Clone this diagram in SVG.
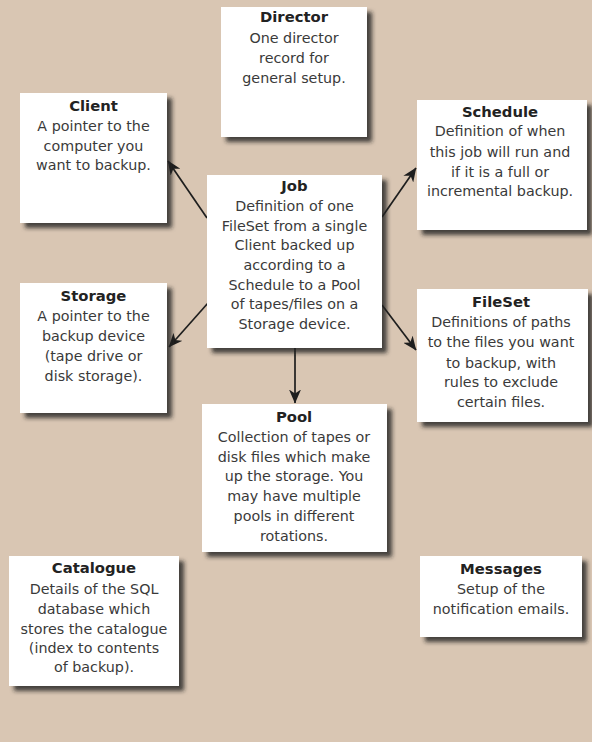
<svg xmlns="http://www.w3.org/2000/svg" width="592" height="742" viewBox="0 0 592 742">
<style>
.box{fill:#ffffff;filter:url(#sh)}
text{font-family:"DejaVu Sans","Liberation Sans",sans-serif;text-anchor:middle;fill:#3a3a3a;font-size:14.3px}
.t{font-weight:bold;font-size:14.8px;fill:#222}
.c{stroke:#1e1e1e;stroke-width:1.7;fill:none;marker-end:url(#ah)}
</style>
<defs>
<filter id="sh" x="-10%" y="-10%" width="130%" height="130%">
<feDropShadow dx="5" dy="5" stdDeviation="2" flood-color="#222" flood-opacity="0.8"/>
</filter>
<marker id="ah" viewBox="0 0 14 12" refX="13.5" refY="6" markerWidth="14" markerHeight="12" markerUnits="userSpaceOnUse" orient="auto">
<path d="M0,0 L14,6 L0,12 L4,6 z" fill="#1e1e1e"/>
</marker>
</defs>
<rect width="592" height="742" fill="#d9c6b3"/>
<g id="connectors">
<line class="c" x1="207" y1="218" x2="168" y2="161"/>
<line class="c" x1="382" y1="217" x2="416" y2="168"/>
<line class="c" x1="208" y1="303" x2="169" y2="347"/>
<line class="c" x1="382" y1="305" x2="416" y2="350"/>
<line class="c" x1="295" y1="348" x2="295" y2="403"/>
</g>
<g id="director">
<rect class="box" x="221" y="7" width="146" height="130"/>
<text class="t" x="294" y="22">Director</text>
<text x="294" y="43">One director</text>
<text x="294" y="63">record for</text>
<text x="294" y="83">general setup.</text>
</g>
<g id="client">
<rect class="box" x="20" y="93" width="147" height="130"/>
<text class="t" x="93.5" y="111">Client</text>
<text x="93.5" y="131">A pointer to the</text>
<text x="93.5" y="151">computer you</text>
<text x="93.5" y="170">want to backup.</text>
</g>
<g id="schedule">
<rect class="box" x="417" y="100" width="170" height="130"/>
<text class="t" x="500" y="117">Schedule</text>
<text x="500" y="136">Definition of when</text>
<text x="500" y="157">this job will run and</text>
<text x="500" y="177">if it is a full or</text>
<text x="500" y="196">incremental backup.</text>
</g>
<g id="job">
<rect class="box" x="207" y="175" width="175" height="173"/>
<text class="t" x="294.5" y="191">Job</text>
<text x="294.5" y="211">Definition of one</text>
<text x="294.5" y="231">FileSet from a single</text>
<text x="294.5" y="250">Client backed up</text>
<text x="294.5" y="270">according to a</text>
<text x="294.5" y="290">Schedule to a Pool</text>
<text x="294.5" y="309">of tapes/files on a</text>
<text x="294.5" y="329">Storage device.</text>
</g>
<g id="storage">
<rect class="box" x="20" y="283" width="147" height="130"/>
<text class="t" x="93.5" y="301">Storage</text>
<text x="93.5" y="321">A pointer to the</text>
<text x="93.5" y="341">backup device</text>
<text x="93.5" y="361">(tape drive or</text>
<text x="93.5" y="381">disk storage).</text>
</g>
<g id="fileset">
<rect class="box" x="417" y="289" width="171" height="133"/>
<text class="t" x="501" y="307">FileSet</text>
<text x="501" y="327">Definitions of paths</text>
<text x="501" y="347">to the files you want</text>
<text x="501" y="368">to backup, with</text>
<text x="501" y="387">rules to exclude</text>
<text x="501" y="407">certain files.</text>
</g>
<g id="pool">
<rect class="box" x="202" y="404" width="185" height="148"/>
<text class="t" x="294" y="422">Pool</text>
<text x="294" y="442">Collection of tapes or</text>
<text x="294" y="462">disk files which make</text>
<text x="294" y="481">up the storage. You</text>
<text x="294" y="501">may have multiple</text>
<text x="294" y="521">pools in different</text>
<text x="294" y="541">rotations.</text>
</g>
<g id="catalogue">
<rect class="box" x="9" y="556" width="170" height="130"/>
<text class="t" x="94" y="573">Catalogue</text>
<text x="94" y="594">Details of the SQL</text>
<text x="94" y="614">database which</text>
<text x="94" y="634">stores the catalogue</text>
<text x="94" y="653">(index to contents</text>
<text x="94" y="672">of backup).</text>
</g>
<g id="messages">
<rect class="box" x="420" y="556" width="162" height="81"/>
<text class="t" x="501" y="574">Messages</text>
<text x="501" y="594">Setup of the</text>
<text x="501" y="614">notification emails.</text>
</g>
</svg>
